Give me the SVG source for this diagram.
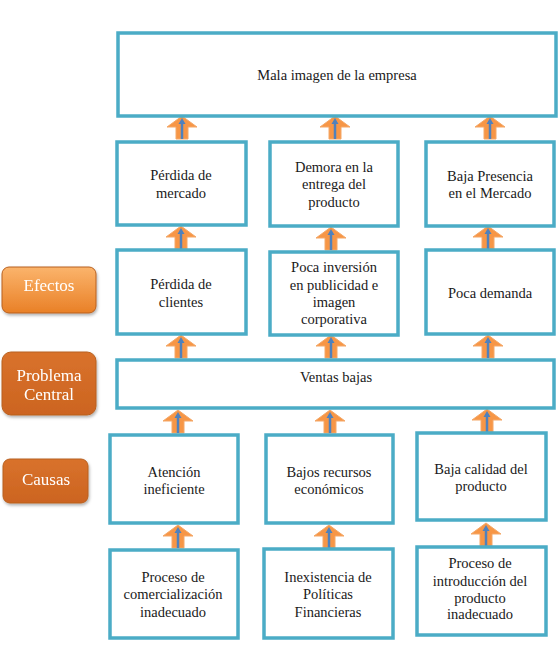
<svg xmlns="http://www.w3.org/2000/svg" width="559" height="646" viewBox="0 0 559 646">
<style>
.box{fill:#fff;stroke:#4BACC6;stroke-width:3.5}
.t{font-family:"Liberation Serif","Times New Roman",serif;font-size:14.5px;fill:#1a1a1a;text-anchor:middle}
.lt{font-family:"Liberation Serif","Times New Roman",serif;font-size:17px;fill:#fff;text-anchor:middle}
.lab{stroke:#B8601F;stroke-width:1}
.ar{fill:#F79646;stroke:#F4A868;stroke-width:1}
.bl{stroke:#4F81BD;stroke-width:2.5;fill:none}
</style>
<defs>
<linearGradient id="gE" x1="0" y1="0" x2="0" y2="1">
<stop offset="0" stop-color="#FBB46C"/><stop offset="1" stop-color="#E98027"/>
</linearGradient>
<linearGradient id="gP" x1="0" y1="0" x2="0" y2="1">
<stop offset="0" stop-color="#D9722C"/><stop offset="1" stop-color="#CC6420"/>
</linearGradient>
<filter id="sh" x="-10%" y="-10%" width="130%" height="140%">
<feDropShadow dx="1" dy="2" stdDeviation="1.5" flood-color="#000" flood-opacity="0.3"/>
</filter>
<g id="arrow">
<path class="ar" d="M0,0 L15,11 L6,11 L6,23 L-6,23 L-6,11 L-15,11 Z"/>
<path class="bl" d="M0,5 L0,23"/>
<path d="M0,2 L3.5,8 L-3.5,8 Z" fill="#4F81BD"/>
</g>
</defs>
<rect width="559" height="646" fill="#fff"/>

<g id="label-efectos" filter="url(#sh)">
<rect class="lab" x="2" y="267" width="94" height="46" rx="7" fill="url(#gE)"/>
<text class="lt" x="49" y="291">Efectos</text>
</g>
<g id="label-problema" filter="url(#sh)">
<rect class="lab" x="2" y="352" width="94" height="63" rx="9" fill="url(#gP)"/>
<text class="lt" x="49" y="381">Problema</text>
<text class="lt" x="49" y="400">Central</text>
</g>
<g id="label-causas" filter="url(#sh)">
<rect class="lab" x="3" y="459" width="85" height="44" rx="7" fill="url(#gP)"/>
<text class="lt" x="46" y="485">Causas</text>
</g>

<g id="connectors">
<use href="#arrow" x="182" y="116"/>
<use href="#arrow" x="335" y="116"/>
<use href="#arrow" x="490" y="116"/>
<use href="#arrow" x="181" y="226"/>
<use href="#arrow" x="331" y="227"/>
<use href="#arrow" x="488" y="226"/>
<use href="#arrow" x="181" y="335"/>
<use href="#arrow" x="331" y="335"/>
<use href="#arrow" x="488" y="335"/>
<use href="#arrow" x="178" y="410"/>
<use href="#arrow" x="330" y="410"/>
<use href="#arrow" x="487" y="409"/>
<use href="#arrow" x="178" y="525"/>
<use href="#arrow" x="329" y="525"/>
<use href="#arrow" x="486" y="523"/>
</g>

<g id="n-mala">
<rect class="box" x="118" y="33" width="438" height="83"/>
<text class="t" x="337" y="80">Mala imagen de la empresa</text>
</g>
<g id="n-perdida-mercado">
<rect class="box" x="117" y="142" width="129" height="83"/>
<text class="t" x="181" y="180">Pérdida de</text>
<text class="t" x="181" y="198">mercado</text>
</g>
<g id="n-demora">
<rect class="box" x="270" y="142" width="128" height="84"/>
<text class="t" x="334" y="172">Demora en la</text>
<text class="t" x="334" y="189">entrega del</text>
<text class="t" x="334" y="207">producto</text>
</g>
<g id="n-baja-presencia">
<rect class="box" x="426" y="142" width="128" height="84"/>
<text class="t" x="490" y="181">Baja Presencia</text>
<text class="t" x="490" y="198">en el Mercado</text>
</g>
<g id="n-perdida-clientes">
<rect class="box" x="117" y="250" width="129" height="84"/>
<text class="t" x="181" y="289">Pérdida de</text>
<text class="t" x="181" y="307">clientes</text>
</g>
<g id="n-poca-inversion">
<rect class="box" x="270" y="252" width="128" height="83"/>
<text class="t" x="334" y="272">Poca inversión</text>
<text class="t" x="334" y="290">en publicidad e</text>
<text class="t" x="334" y="307">imagen</text>
<text class="t" x="334" y="324">corporativa</text>
</g>
<g id="n-poca-demanda">
<rect class="box" x="426" y="250" width="128" height="84"/>
<text class="t" x="490" y="298">Poca demanda</text>
</g>
<g id="n-ventas">
<rect class="box" x="117" y="360" width="437" height="48"/>
<text class="t" x="336" y="382">Ventas bajas</text>
</g>
<g id="n-atencion">
<rect class="box" x="110" y="435" width="128" height="88"/>
<text class="t" x="174" y="477">Atención</text>
<text class="t" x="174" y="494">ineficiente</text>
</g>
<g id="n-bajos-recursos">
<rect class="box" x="266" y="435" width="127" height="88"/>
<text class="t" x="329" y="477">Bajos recursos</text>
<text class="t" x="329" y="494">económicos</text>
</g>
<g id="n-baja-calidad">
<rect class="box" x="417" y="433" width="129" height="87"/>
<text class="t" x="481" y="474">Baja calidad del</text>
<text class="t" x="481" y="491">producto</text>
</g>
<g id="n-proceso-com">
<rect class="box" x="110" y="550" width="128" height="88"/>
<text class="t" x="173" y="582">Proceso de</text>
<text class="t" x="173" y="599">comercialización</text>
<text class="t" x="173" y="617">inadecuado</text>
</g>
<g id="n-inexistencia">
<rect class="box" x="264" y="549" width="129" height="89"/>
<text class="t" x="328" y="582">Inexistencia de</text>
<text class="t" x="328" y="599">Políticas</text>
<text class="t" x="328" y="617">Financieras</text>
</g>
<g id="n-proceso-intro">
<rect class="box" x="417" y="547" width="129" height="88"/>
<text class="t" x="480" y="568">Proceso de</text>
<text class="t" x="480" y="586">introducción del</text>
<text class="t" x="480" y="603">producto</text>
<text class="t" x="480" y="619">inadecuado</text>
</g>
</svg>
